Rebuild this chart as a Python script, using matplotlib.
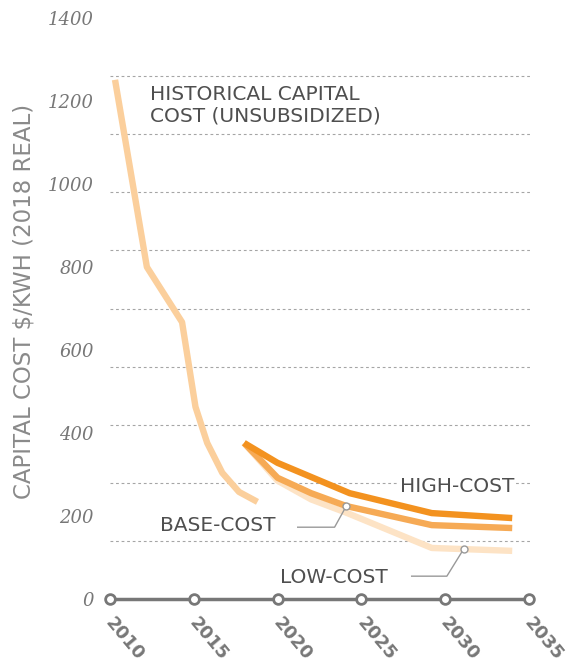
import numpy as np
import matplotlib
matplotlib.use('Agg')
import matplotlib.pyplot as plt

# historical capital cost (unsubsidized), $/kWh 2018 real
hist_years = [2010.3, 2012.2, 2014.3, 2015.1, 2015.8, 2016.7, 2017.7, 2018.8]
hist_cost = [1251, 800, 667, 463, 376, 304, 258, 234]

# projections
high_years = [2018.0, 2020.0, 2024.3, 2029.2, 2034.0]
high_cost = [376, 328, 255, 207, 195]

base_years = [2018.0, 2020.0, 2022.0, 2024.1, 2029.2, 2034.0]
base_cost = [376, 292, 255, 224, 178, 171]

low_years = [2018.0, 2020.0, 2022.0, 2024.1, 2029.2, 2034.0]
low_cost = [376, 285, 240, 208, 123, 116]

tick_years = [2010, 2015, 2020, 2025, 2030, 2035]
ytick_vals = [0, 200, 400, 600, 800, 1000, 1200, 1400]
grid_vals = [140, 280, 420, 560, 700, 840, 980, 1120, 1260, 1400]

C_HIST = '#fbcf9c'
C_HIGH = '#f3921f'
C_BASE = '#f6aa55'
C_LOW = '#fde3c5'
GREY = '#777777'
TXT = '#4f4f4f'

fig = plt.figure(figsize=(5.67, 6.66), dpi=100)
ax = fig.add_axes([110/567, 1 - 599/666, (532-110)/567, (599-18)/666])
ax.set_xlim(2010, 2035.18)
ax.set_ylim(0, 1400)
for s in ax.spines.values():
    s.set_visible(False)

# dashed guide lines (not aligned with the labels, as in the original)
ax.set_yticks(grid_vals, minor=True)
ax.grid(True, which='minor', axis='y', color='#a5a5a5', lw=0.8, ls=(0, (2.5, 2.5)))
ax.set_yticks(ytick_vals)
ax.set_yticklabels([str(v) for v in ytick_vals], family='DejaVu Serif',
                   style='italic', fontsize=13, color=GREY)
ax.tick_params(axis='y', which='both', length=0, pad=11.5)

ax.set_xticks(tick_years)
ax.set_xticklabels([])
ax.tick_params(axis='x', length=0)
for yr in tick_years:
    ax.annotate(str(yr), (yr, 0), xytext=(-1, -15), textcoords='offset points',
                rotation=-50, rotation_mode='anchor', ha='left', va='center',
                fontsize=13, fontweight='semibold', color=GREY,
                annotation_clip=False)

# axis line with hollow markers
ax.plot(tick_years, [0]*len(tick_years), '-o', color=GREY, lw=2.5, ms=7,
        mfc='white', mew=2, clip_on=False, zorder=5)

lw = 4.6
ax.plot(hist_years, hist_cost, color=C_HIST, lw=lw, solid_capstyle='butt',
        solid_joinstyle='round', clip_on=False)
ax.plot(low_years, low_cost, color=C_LOW, lw=lw, solid_capstyle='butt',
        solid_joinstyle='round')
ax.plot(base_years, base_cost, color=C_BASE, lw=lw, solid_capstyle='butt',
        solid_joinstyle='round')
ax.plot(high_years, high_cost, color=C_HIGH, lw=lw, solid_capstyle='butt',
        solid_joinstyle='round')

# labels
fs = 14.5
ax.text(2012.4, 1238, 'HISTORICAL CAPITAL\nCOST (UNSUBSIDIZED)', ha='left',
        va='top', fontsize=fs, color=TXT, linespacing=1.15)
ax.text(2027.3, 272, 'HIGH-COST', ha='left', va='center', fontsize=fs,
        color=TXT, bbox=dict(fc='white', ec='none', pad=1))
ax.text(2013.0, 176, 'BASE-COST', ha='left', va='center', fontsize=fs,
        color=TXT)
ax.text(2020.15, 53, 'LOW-COST', ha='left', va='center', fontsize=fs,
        color=TXT)

# leader lines
bx, by = base_years[3], base_cost[3]
ax.plot([bx - 2.9, bx - 0.7, bx], [by - 51, by - 51, by], color='#999999', lw=1)
ax.plot([bx], [by], 'o', ms=5, mfc='white', mec='#999999', mew=1)
lx = 2031.1
ly = np.interp(lx, low_years, low_cost)
ax.plot([lx - 3.1, lx - 1.0, lx], [55, 55, ly], color='#999999', lw=1)
ax.plot([lx], [ly], 'o', ms=5, mfc='white', mec='#999999', mew=1)

fig.text(24/567, 1 - 301/666, 'CAPITAL COST $/KWH (2018 REAL)', rotation=90,
         ha='center', va='center', fontsize=16.5, color='#8a8a8a')

fig.savefig('out.png', dpi=100)
